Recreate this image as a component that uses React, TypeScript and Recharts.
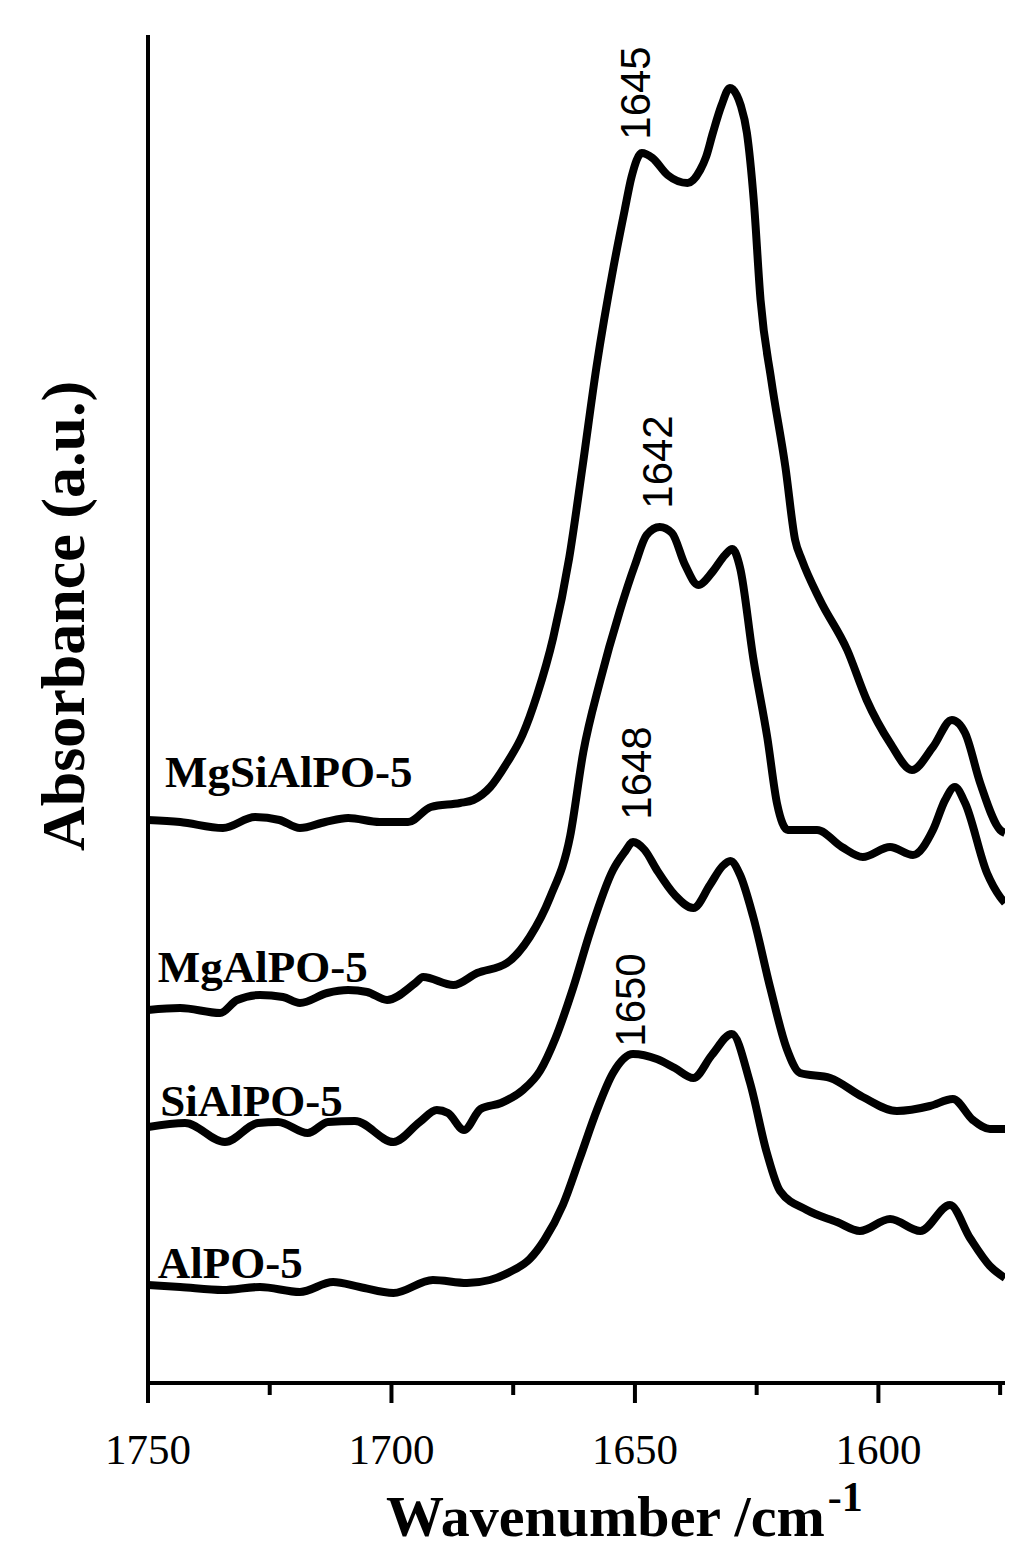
import { LineChart, Line, XAxis, YAxis, ReferenceDot } from 'recharts';

// wavenumber (cm-1) / absorbance (a.u., offset per sample)
const mgSiAlPO5 = [
  { w: 1750, a: 1.126 }, { w: 1743.4, a: 1.122 }, { w: 1734.6, a: 1.11 }, { w: 1728, a: 1.132 },
  { w: 1723, a: 1.126 }, { w: 1718.8, a: 1.11 }, { w: 1713.6, a: 1.122 }, { w: 1708.9, a: 1.13 },
  { w: 1702.4, a: 1.122 }, { w: 1696.6, a: 1.122 }, { w: 1691.9, a: 1.152 }, { w: 1685.9, a: 1.16 },
  { w: 1683.2, a: 1.166 }, { w: 1679.7, a: 1.192 }, { w: 1676.3, a: 1.24 }, { w: 1673.1, a: 1.296 },
  { w: 1670.1, a: 1.376 }, { w: 1666.8, a: 1.49 }, { w: 1663.5, a: 1.65 }, { w: 1660.8, a: 1.83 },
  { w: 1657.9, a: 2.032 }, { w: 1654.4, a: 2.232 }, { w: 1652.1, a: 2.346 }, { w: 1650.7, a: 2.412 },
  { w: 1648.6, a: 2.46 }, { w: 1646.4, a: 2.45 }, { w: 1643.3, a: 2.416 }, { w: 1639.2, a: 2.4 },
  { w: 1636.6, a: 2.426 }, { w: 1635.4, a: 2.452 }, { w: 1634, a: 2.5 }, { w: 1632.2, a: 2.556 },
  { w: 1630.5, a: 2.59 }, { w: 1629.1, a: 2.576 }, { w: 1628.3, a: 2.556 }, { w: 1627, a: 2.5 },
  { w: 1625.6, a: 2.366 }, { w: 1624.2, a: 2.166 }, { w: 1622, a: 2.006 },
  { w: 1619.1, a: 1.832 }, { w: 1617.1, a: 1.686 }, { w: 1615.7, a: 1.646 }, { w: 1612, a: 1.566 },
  { w: 1606.4, a: 1.466 }, { w: 1602.4, a: 1.366 }, { w: 1597.6, a: 1.28 }, { w: 1593.1, a: 1.226 },
  { w: 1588.8, a: 1.272 }, { w: 1584.9, a: 1.326 }, { w: 1582.2, a: 1.3 }, { w: 1579.1, a: 1.2 },
  { w: 1575, a: 1.106 }, { w: 1574, a: 1.1 },
];

const mgAlPO5 = [
  { w: 1750, a: 0.746 }, { w: 1743.4, a: 0.75 }, { w: 1735.2, a: 0.74 }, { w: 1731.7, a: 0.766 },
  { w: 1727, a: 0.776 }, { w: 1722.3, a: 0.772 }, { w: 1718.8, a: 0.76 }, { w: 1713.2, a: 0.78 },
  { w: 1708.9, a: 0.786 }, { w: 1705, a: 0.782 }, { w: 1700.9, a: 0.766 }, { w: 1695.1, a: 0.8 },
  { w: 1693.5, a: 0.812 }, { w: 1687.3, a: 0.796 }, { w: 1682.4, a: 0.82 }, { w: 1676.3, a: 0.84 },
  { w: 1671.6, a: 0.892 }, { w: 1667.4, a: 0.972 }, { w: 1663.3, a: 1.094 }, { w: 1660.6, a: 1.262 },
  { w: 1657.2, a: 1.402 }, { w: 1653.1, a: 1.544 }, { w: 1650, a: 1.636 }, { w: 1647.6, a: 1.696 },
  { w: 1644.9, a: 1.712 }, { w: 1642.4, a: 1.7 }, { w: 1639.7, a: 1.636 }, { w: 1637, a: 1.596 },
  { w: 1634.1, a: 1.622 }, { w: 1631.5, a: 1.656 }, { w: 1630, a: 1.668 }, { w: 1628.4, a: 1.63 },
  { w: 1625.7, a: 1.45 }, { w: 1622.8, a: 1.29 }, { w: 1620.8, a: 1.158 }, { w: 1618.6, a: 1.106 },
  { w: 1612.6, a: 1.106 }, { w: 1607.5, a: 1.072 }, { w: 1603.2, a: 1.052 }, { w: 1597.6, a: 1.072 },
  { w: 1592.9, a: 1.056 }, { w: 1588.8, a: 1.106 }, { w: 1586.3, a: 1.166 }, { w: 1584.3, a: 1.192 },
  { w: 1582.2, a: 1.16 }, { w: 1577.7, a: 1.02 }, { w: 1575, a: 0.972 }, { w: 1574, a: 0.96 },
];

const siAlPO5 = [
  { w: 1750, a: 0.512 }, { w: 1742.4, a: 0.52 }, { w: 1734.2, a: 0.482 }, { w: 1727.4, a: 0.52 },
  { w: 1723.3, a: 0.522 }, { w: 1717.2, a: 0.5 }, { w: 1713, a: 0.522 }, { w: 1707.5, a: 0.524 },
  { w: 1699.6, a: 0.482 }, { w: 1694.2, a: 0.522 }, { w: 1690.7, a: 0.546 }, { w: 1688.4, a: 0.54 },
  { w: 1685.1, a: 0.506 }, { w: 1681.7, a: 0.548 }, { w: 1677.5, a: 0.56 }, { w: 1673, a: 0.586 },
  { w: 1669.5, a: 0.624 }, { w: 1666.3, a: 0.69 }, { w: 1662.7, a: 0.79 }, { w: 1659.2, a: 0.902 }, { w: 1654.5, a: 1.026 },
  { w: 1652.1, a: 1.062 }, { w: 1650.4, a: 1.082 }, { w: 1648, a: 1.066 }, { w: 1645.5, a: 1.026 },
  { w: 1641.8, a: 0.976 }, { w: 1638, a: 0.95 }, { w: 1634.6, a: 0.996 }, { w: 1632, a: 1.034 },
  { w: 1630.4, a: 1.044 }, { w: 1628.4, a: 1.016 }, { w: 1625.7, a: 0.932 }, { w: 1622.2, a: 0.79 },
  { w: 1618.8, a: 0.668 }, { w: 1616.1, a: 0.62 }, { w: 1609.9, a: 0.61 }, { w: 1603.2, a: 0.572 },
  { w: 1596.2, a: 0.544 }, { w: 1589.4, a: 0.554 }, { w: 1584.7, a: 0.568 }, { w: 1580.6, a: 0.526 },
  { w: 1577.1, a: 0.508 }, { w: 1574, a: 0.508 },
];

const alPO5 = [
  { w: 1750, a: 0.196 }, { w: 1743.4, a: 0.192 }, { w: 1734.6, a: 0.186 }, { w: 1727, a: 0.192 },
  { w: 1718.8, a: 0.182 }, { w: 1712, a: 0.202 }, { w: 1706.5, a: 0.192 }, { w: 1699.6, a: 0.18 },
  { w: 1691.5, a: 0.206 }, { w: 1684.5, a: 0.2 }, { w: 1679.8, a: 0.206 }, { w: 1675.7, a: 0.222 },
  { w: 1671.6, a: 0.248 }, { w: 1668.6, a: 0.286 }, { w: 1664.8, a: 0.356 }, { w: 1661.3, a: 0.45 },
  { w: 1657.8, a: 0.546 }, { w: 1654.5, a: 0.62 }, { w: 1650.4, a: 0.658 }, { w: 1645.5, a: 0.648 },
  { w: 1641.8, a: 0.63 }, { w: 1638, a: 0.61 }, { w: 1634.2, a: 0.656 }, { w: 1630.1, a: 0.698 },
  { w: 1626.4, a: 0.602 }, { w: 1622.9, a: 0.46 }, { w: 1620.2, a: 0.384 }, { w: 1614.7, a: 0.346 },
  { w: 1608.5, a: 0.322 }, { w: 1603.8, a: 0.304 }, { w: 1597.6, a: 0.328 }, { w: 1591.4, a: 0.304 },
  { w: 1585.3, a: 0.356 }, { w: 1581.2, a: 0.29 }, { w: 1577.1, a: 0.234 }, { w: 1574, a: 0.21 },
];

const xTicks = [1750, 1725, 1700, 1675, 1650, 1625, 1600, 1575];
const xTickLabels = [1750, 1700, 1650, 1600];

const sampleNames = ['MgSiAlPO-5', 'MgAlPO-5', 'SiAlPO-5', 'AlPO-5'];
const peakNames = ['1645', '1642', '1648', '1650'];

const SERIF = '"Liberation Serif", "Times New Roman", serif';
const SANS = '"Liberation Sans", Arial, sans-serif';

// anchors in data units for the text annotations
const sampleLabelAt = [
  { w: 1746.5, a: 1.192 },
  { w: 1748, a: 0.802 },
  { w: 1747.5, a: 0.534 },
  { w: 1748, a: 0.21 },
];
const peakLabelAt = [
  { w: 1650.0, a: 2.58 },
  { w: 1645.5, a: 1.842 },
  { w: 1649.8, a: 1.22 },
  { w: 1651.0, a: 0.766 },
];

const XTick = (props: any) => {
  const { x, y, payload } = props;
  const major = xTickLabels.includes(payload.value);
  return (
    <g>
      <line x1={x} y1={y} x2={x} y2={y + (major ? 20 : 12)} stroke="#000" strokeWidth={4} />
      {major && (
        <text x={x} y={y + 81} textAnchor="middle" fontFamily={SERIF} fontSize={43} fill="#000">
          {payload.value}
        </text>
      )}
    </g>
  );
};

const XTitle = (props: any) => {
  const vb = props.viewBox;
  return (
    <text
      x={vb.x + 238}
      y={vb.y + 153}
      textAnchor="start"
      fontFamily={SERIF}
      fontWeight="bold"
      fontSize={58}
      fill="#000"
    >
      Wavenumber /cm
      <tspan fontSize={42} dx={3} dy={-25}>-1</tspan>
    </text>
  );
};

const YTitle = (props: any) => {
  const vb = props.viewBox;
  return (
    <text
      transform={`translate(${vb.x - 26},${vb.y + 581}) rotate(-90)`}
      textAnchor="middle"
      dy="0.36em"
      fontFamily={SERIF}
      fontWeight="bold"
      fontSize={62}
      fill="#000"
    >
      Absorbance (a.u.)
    </text>
  );
};

const sampleLabel = (text: string) => (p: any) => (
  <text x={p.cx} y={p.cy} fontFamily={SERIF} fontWeight="bold" fontSize={45} fill="#000">
    {text}
  </text>
);

const peakLabel = (text: string) => (p: any) => (
  <text
    transform={`translate(${p.cx},${p.cy}) rotate(-90)`}
    textAnchor="middle"
    dy="0.36em"
    fontFamily={SANS}
    fontSize={42}
    fill="#000"
  >
    {text}
  </text>
);

const series = [mgSiAlPO5, mgAlPO5, siAlPO5, alPO5];

export default function App() {
  return (
    <div style={{ width: 1017, height: 1546, background: '#fff' }}>
      <LineChart width={1017} height={1546} margin={{ top: 27, right: 20, left: 80, bottom: 0 }}>
        <XAxis
          type="number"
          dataKey="w"
          domain={[1574, 1750]}
          reversed
          allowDataOverflow
          ticks={xTicks}
          interval={0}
          tickSize={0}
          tickMargin={0}
          tickLine={false}
          axisLine={{ stroke: '#000', strokeWidth: 4 }}
          tick={<XTick />}
          height={171}
          label={{ content: <XTitle /> }}
        />
        <YAxis
          type="number"
          dataKey="a"
          domain={[0, 2.696]}
          allowDataOverflow
          tick={false}
          tickLine={false}
          axisLine={{ stroke: '#000', strokeWidth: 4 }}
          width={60}
          label={{ content: <YTitle /> }}
        />
        {series.map((d, i) => (
          <Line
            key={sampleNames[i]}
            data={d}
            dataKey="a"
            type="monotone"
            stroke="#000"
            strokeWidth={8}
            strokeLinejoin="round"
            dot={false}
            activeDot={false}
            isAnimationActive={false}
          />
        ))}
        {sampleNames.map((n, i) => (
          <ReferenceDot
            key={n}
            x={sampleLabelAt[i].w}
            y={sampleLabelAt[i].a}
            r={0}
            ifOverflow="visible"
            shape={sampleLabel(n)}
          />
        ))}
        {peakNames.map((n, i) => (
          <ReferenceDot
            key={n}
            x={peakLabelAt[i].w}
            y={peakLabelAt[i].a}
            r={0}
            ifOverflow="visible"
            shape={peakLabel(n)}
          />
        ))}
      </LineChart>
    </div>
  );
}
